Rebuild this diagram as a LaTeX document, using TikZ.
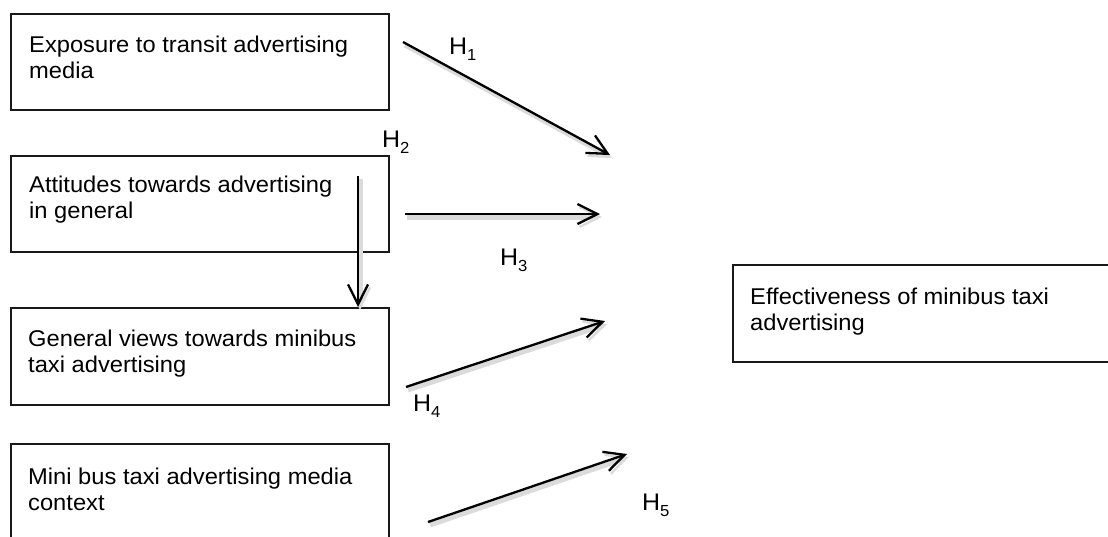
\documentclass[tikz,border=0pt]{standalone}
\usepackage{fontspec}
\setmainfont[FakeStretch=1.04]{Liberation Sans}
\usetikzlibrary{arrows.meta,calc}
\newcommand{\hyp}[1]{H\raisebox{-6pt}{\fontsize{16}{16}\selectfont #1}}
\begin{document}
\begin{tikzpicture}[x=1pt,y=-1pt,
  box/.style={draw=black!90, line width=2.4pt, rectangle, inner sep=0, anchor=north west},
  txt/.style={inner sep=0, align=left, anchor=base west, font=\fontsize{22.8}{25.5}\selectfont},
  hlab/.style={inner sep=0, anchor=base west, font=\fontsize{24}{26}\selectfont},
  arr/.style={line width=2.3pt, -{Straight Barb[length=20pt,width=20pt,line width=2.3pt]},
    preaction={draw=black!14, line width=5pt, transform canvas={shift={(2pt,-3pt)}}}}]
\useasboundingbox (0,0) rectangle (1108,536);
% boxes
\node[box, minimum width=378pt, minimum height=96pt] (b1) at (10,13) {};
\node[box, minimum width=378pt, minimum height=96pt] (b2) at (10,155) {};
\node[box, minimum width=378pt, minimum height=97pt] (b3) at (10,307) {};
\node[box, minimum width=378pt, minimum height=100pt] (b4) at (10,443) {};
\node[box, minimum width=400pt, minimum height=97pt] (b5) at (732,264) {};
% texts (anchor = baseline of the last line)
\node[txt] (t1) at ($(b1.north west)+(19,65)$) {Exposure to transit advertising\\media};
\node[txt] (t2) at ($(b2.north west)+(19,63)$) {Attitudes towards advertising\\in general};
\node[txt] (t3) at ($(b3.north west)+(18,65)$) {General views towards minibus\\taxi advertising};
\node[txt] (t4) at ($(b4.north west)+(18,67)$) {Mini bus taxi advertising media\\context};
\node[txt] (t5) at ($(b5.north west)+(18,66)$) {Effectiveness of minibus taxi\\advertising};
% arrow ends
\coordinate (h1s) at (403,42);  \coordinate (h1e) at (610,155);
\coordinate (h2s) at (358,176); \coordinate (h2e) at (b3.north -| h2s);
\coordinate (h3s) at (405,214); \coordinate (h3e) at (600,214);
\coordinate (h4s) at (406,387); \coordinate (h4e) at (605,321);
\coordinate (h5s) at (428,522); \coordinate (h5e) at (627,454);
\draw[arr] (h1s) -- (h1e);
\draw[arr] (h2s) -- (h2e);
\draw[arr] (h3s) -- (h3e);
\draw[arr] (h4s) -- (h4e);
\draw[arr] (h5s) -- (h5e);
% labels
\node[hlab] (l1) at (449,54) {\hyp{1}};
\node[hlab] (l2) at (382,147) {\hyp{2}};
\node[hlab] (l3) at (500,265) {\hyp{3}};
\node[hlab] (l4) at (413,411) {\hyp{4}};
\node[hlab] (l5) at (642,510) {\hyp{5}};
\end{tikzpicture}
\end{document}
